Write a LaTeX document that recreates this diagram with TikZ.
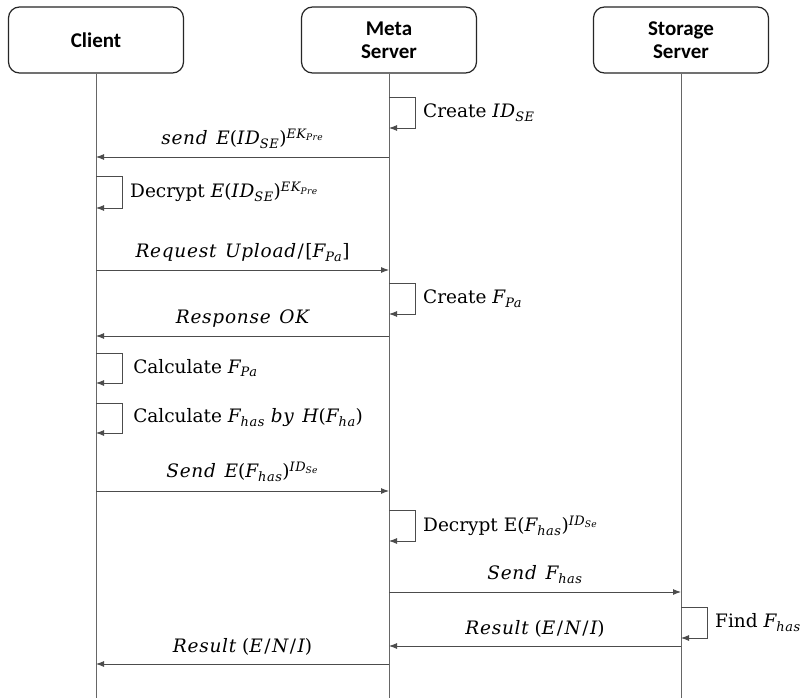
\documentclass[tikz,border=0pt]{standalone}
\usepackage{fontspec}
\setmainfont{DejaVu Serif}
\newfontfamily\hdrfont{Carlito}
\newfontfamily\varfont{DejaVu Serif}[LetterSpace=4,WordSpace=1.3]
\usetikzlibrary{arrows.meta,calc}
% italic variable with optional sub/superscripts, all set as text
\newcommand\vv[1]{{\varfont\itshape #1}}
\newcommand\lo[1]{\textsubscript{\vv{#1}}}
\newcommand\hi[1]{\textsuperscript{\vv{#1}}}
\newcommand\slsep{\kern1.5pt/\kern1.5pt}
\begin{document}
\begin{tikzpicture}[x=1pt,y=-1pt,
  actor/.style={draw=black!85,line width=1.2pt,rounded corners=11pt,minimum width=175pt,minimum height=66pt,
    align=center,font=\hdrfont\bfseries\fontsize{21}{23}\selectfont,inner sep=0pt},
  life/.style={draw=black!60,line width=0.9pt},
  msg/.style={draw=black!70,line width=0.9pt,-{Latex[length=8pt,width=6pt]}},
  lbl/.style={font=\fontsize{18.5}{21}\selectfont,inner sep=0pt},
  selfl/.style={draw=black!70,line width=0.9pt,-{Latex[length=8pt,width=6pt]}}]
\useasboundingbox (0,0) rectangle (804,698);
\fill[white] (0,0) rectangle (804,698);

% participants
\node[actor] (client) at (96,40) {Client};
\node[actor] (meta) at (389,40) {Meta\\Server};
\node[actor] (store) at (681,40) {Storage\\Server};

% lifelines
\coordinate (clientEnd) at (client |- 0,698);
\coordinate (metaEnd) at (meta |- 0,698);
\coordinate (storeEnd) at (store |- 0,698);
\draw[life] (client.south) -- (clientEnd);
\draw[life] (meta.south) -- (metaEnd);
\draw[life] (store.south) -- (storeEnd);

% self calls: lifeline, top y, height, label
\newcommand\selfcall[4]{%
  \coordinate (#1a) at (#1 |- 0,#2);
  \coordinate (#1b) at ($(#1a)+(0,#3)$);
  \draw[selfl] (#1a) -- ++(26,0) -- ++(0,#3) -- (#1b);
  \node[lbl,anchor=west] at ($(#1a)+(34,#3/2)$) {#4};}

\selfcall{meta}{97}{31}{Create \vv{ID}\lo{SE}}
\coordinate (m1) at (meta |- 0,157);
\coordinate (c1) at (client |- 0,157);
\draw[msg] (m1) -- node[lbl,above=8pt] {\vv{send E}(\vv{ID}\lo{SE})\hi{EK\textsubscript{Pre}}} (c1);

\selfcall{client}{176}{32}{Decrypt \vv{E}(\vv{ID}\lo{SE})\hi{EK\textsubscript{Pre}}}

\coordinate (c2) at (client |- 0,270);
\coordinate (m2) at (meta |- 0,270);
\draw[msg] (c2) -- node[lbl,above=8pt] {\vv{Request Upload}\slsep[\vv{F}\lo{Pa}]} (m2);

\selfcall{meta}{283}{31}{Create \vv{F}\lo{Pa}}

\coordinate (m3) at (meta |- 0,336);
\coordinate (c3) at (client |- 0,336);
\draw[msg] (m3) -- node[lbl,above=8pt] {\vv{Response OK}} (c3);

\selfcall{client}{353}{30}{\,Calculate \vv{F}\lo{Pa}}
\selfcall{client}{403}{30}{\,Calculate \vv{F}\lo{has} \vv{by H}(\vv{F}\lo{ha})}

\coordinate (c4) at (client |- 0,491);
\coordinate (m4) at (meta |- 0,491);
\draw[msg] (c4) -- node[lbl,above=9pt] {\vv{Send E}(\vv{F}\lo{has})\hi{ID\textsubscript{Se}}} (m4);

\selfcall{meta}{510}{31}{Decrypt E(\vv{F}\lo{has})\hi{ID\textsubscript{Se}}}

\coordinate (m5) at (meta |- 0,592);
\coordinate (s5) at (store |- 0,592);
\draw[msg] (m5) -- node[lbl,above=8pt] {\vv{Send F}\lo{has}} (s5);

\selfcall{store}{607}{31}{Find \vv{F}\lo{has}}

\coordinate (s6) at (store |- 0,646);
\coordinate (m6) at (meta |- 0,646);
\draw[msg] (s6) -- node[lbl,above=8pt] {\vv{Result} (\vv{E}\slsep\vv{N}\slsep\vv{I})} (m6);

\coordinate (m7) at (meta |- 0,664);
\coordinate (c7) at (client |- 0,664);
\draw[msg] (m7) -- node[lbl,above=8pt] {\vv{Result} (\vv{E}\slsep\vv{N}\slsep\vv{I})} (c7);
\end{tikzpicture}
\end{document}
